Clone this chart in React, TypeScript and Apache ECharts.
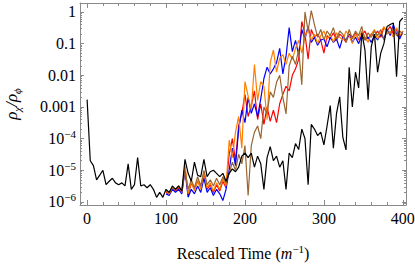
import React, { useEffect, useRef } from "react";
import * as echarts from "echarts";

// sampling grid (rescaled time units)
const STEP = 4;
const blackStart = 0;
const colouredStart = 100;

const blackValues = [
  1.7e-3, 2.0e-5, 1.4e-5, 5.0e-6, 7.0e-6, 1.0e-5, 3.5e-6, 4.5e-6, 5.6e-6, 4.0e-6,
  3.5e-6, 4.0e-6, 3.2e-6, 1.6e-5, 2.5e-6, 3.5e-6, 2.5e-5, 3.2e-6, 3.5e-6, 2.8e-6,
  3.5e-6, 2.5e-6, 1.4e-6, 2.0e-6, 1.4e-6, 2.5e-6, 2.0e-6, 3.2e-6, 2.5e-6, 3.2e-6,
  2.2e-6, 2.2e-5, 8.0e-6, 4.5e-6, 1.8e-5, 7.0e-6, 6.3e-6, 2.2e-5, 6.3e-6, 9.0e-6,
  1.0e-5, 8.0e-6, 6.3e-6, 8.0e-6, 4.5e-6, 8.0e-6, 1.1e-5, 9.0e-6, 1.25e-5, 2.8e-5,
  3.5e-5, 2.5e-5, 3.5e-5, 1.25e-5, 2.8e-5, 1.6e-5, 2.5e-6, 2.5e-5, 5.6e-5, 2.0e-5,
  2.8e-5, 1.25e-5, 2.0e-5, 2.5e-6, 3.5e-5, 2.5e-5, 7.0e-5, 4.5e-5, 2.0e-4, 1.0e-4,
  3.5e-6, 2.8e-4, 2.0e-4, 1.25e-4, 1.6e-4, 6.3e-5, 2.5e-4, 1.1e-3, 5.0e-5, 6.3e-4,
  2.1e-3, 1.1e-4, 4.4e-5, 1.8e-2, 1.0e-3, 1.25e-2, 4.0e-3, 0.22, 6.3e-2, 1.7e-3,
  8.0e-2, 0.2, 1.25e-2, 5.0e-2, 0.1, 0.35, 0.4, 0.45, 9.0e-3, 0.5,
  0.65,
];

const orangeValues = [
  2.2e-6, 1.8e-6, 2.8e-6, 2.5e-6, 3.2e-6, 2.0e-6, 1.4e-5, 1.8e-6, 4.5e-6, 2.2e-6,
  5.0e-6, 2.5e-6, 8.9e-6, 2.8e-6, 4.0e-6, 2.2e-6, 4.0e-6, 2.5e-6, 5.6e-6, 3.2e-6,
  8.9e-5, 2.5e-5, 1.6e-4, 5.0e-4, 5.0e-5, 6.3e-3, 2.2e-3, 7.9e-4, 2.2e-2, 1.6e-3,
  6.3e-3, 4.5e-3, 4.0e-4, 2.5e-2, 6.3e-2, 1.26e-2, 3.5e-2, 4.5e-2, 2.2e-2, 5.0e-2,
  3.2e-2, 7.1e-2, 0.126, 0.05, 0.158, 0.28, 0.126, 0.2, 0.1, 0.178,
  0.25, 0.14, 0.2, 0.11, 0.22, 0.16, 0.13, 0.25, 0.18, 0.1,
  0.2, 0.14, 0.25, 0.16, 0.11, 0.2, 0.28, 0.14, 0.22, 0.35,
  0.2, 0.25, 0.16, 0.32, 0.18, 0.25,
];

const redValues = [
  2.0e-6, 1.8e-6, 2.5e-6, 2.2e-6, 2.8e-6, 2.0e-6, 1.26e-5, 1.6e-6, 4.0e-6, 2.5e-6,
  4.5e-6, 2.8e-6, 7.9e-6, 2.5e-6, 3.5e-6, 2.0e-6, 3.5e-6, 2.2e-6, 4.5e-6, 2.8e-6,
  3.2e-5, 1.0e-4, 2.0e-5, 2.5e-4, 6.3e-4, 2.5e-3, 5.0e-4, 1.1e-3, 3.2e-3, 4.0e-4,
  1.26e-3, 2.8e-4, 1.0e-3, 3.5e-4, 7.9e-4, 3.2e-4, 1.26e-3, 2.5e-3, 4.5e-3, 3.2e-3,
  1.0e-2, 1.6e-2, 3.2e-2, 0.5, 0.2, 3.2e-2, 0.28, 0.16, 0.2, 0.13,
  0.05, 0.18, 0.14, 0.22, 0.13, 0.2, 0.16, 0.11, 0.2, 0.16,
  0.22, 0.13, 0.18, 0.25, 0.14, 0.2, 0.18, 0.25, 0.16, 0.32,
  0.25, 0.35, 0.2, 0.28, 0.16, 0.22,
];

const blueValues = [
  1.8e-6, 1.6e-6, 2.5e-6, 2.0e-6, 2.5e-6, 1.8e-6, 1.0e-5, 1.4e-6, 2.5e-6, 1.8e-6,
  3.2e-6, 2.0e-6, 5.6e-6, 2.0e-6, 2.8e-6, 1.6e-6, 2.5e-6, 1.8e-6, 1.1e-6, 2.5e-6,
  1.0e-5, 5.0e-5, 1.4e-5, 2.0e-4, 7.9e-4, 3.2e-4, 2.0e-3, 6.3e-4, 1.26e-3, 5.0e-4,
  1.8e-3, 7.9e-3, 1.8e-2, 1.1e-2, 1.6e-2, 2.5e-2, 7.1e-2, 1.1e-2, 4.0e-2, 0.32,
  5.6e-2, 0.126, 4.5e-2, 0.28, 0.14, 0.35, 0.11, 0.16, 8.9e-2, 0.13,
  0.14, 7.9e-2, 0.16, 0.11, 0.14, 7.1e-2, 0.16, 0.13, 0.2, 0.11,
  0.16, 0.1, 0.18, 0.13, 0.16, 0.11, 0.18, 0.13, 0.2, 0.14,
  0.28, 0.18, 0.4, 0.2, 0.14, 0.25,
];

const brownValues = [
  2.2e-6, 2.0e-6, 2.8e-6, 2.5e-6, 3.2e-6, 2.2e-6, 1.0e-5, 2.5e-6, 5.0e-6, 2.8e-6,
  6.3e-6, 3.2e-6, 1.0e-5, 3.5e-6, 5.0e-6, 3.2e-6, 5.6e-6, 3.5e-6, 6.3e-6, 4.0e-6,
  7.9e-6, 1.8e-5, 1.0e-5, 3.2e-5, 1.6e-5, 6.0e-5, 1.6e-6, 6.0e-5, 1.6e-4, 2.5e-4,
  1.0e-4, 1.0e-3, 6.0e-4, 3.0e-3, 2.0e-3, 6.0e-3, 1.0e-2, 2.0e-3, 6.0e-4, 2.0e-2,
  4.0e-2, 2.2e-2, 6.3e-2, 5.0e-3, 1.0, 0.25, 1.1, 0.4, 0.16, 0.28,
  0.13, 0.25, 0.18, 0.32, 0.14, 0.25, 0.2, 0.11, 0.28, 0.14,
  0.25, 0.18, 0.35, 0.13, 0.22, 0.16, 0.25, 0.18, 0.28, 0.13,
  0.25, 0.2, 0.32, 0.18, 0.25, 0.2,
];

const xTickLabels = [0, 100, 200, 300, 400];
const xMinorTicks = [20, 40, 60, 80, 120, 140, 160, 180, 220, 240, 260, 280, 320, 340, 360, 380];
const yDecades = [1e-6, 1e-5, 1e-4, 1e-3, 1e-2, 1e-1, 1];
const yTickLabels = ["10^-6", "10^-5", "10^-4", "0.001", "0.01", "0.1", "1"];

const X_MIN = -9;
const X_MAX = 404;
const Y_MIN = 8.0e-7;
const Y_MAX = 1.92;

const FONT = "'Liberation Serif', 'Times New Roman', serif";
const FRAME = "#8a8a8a";

function toPairs(start: number, values: number[]) {
  return values.map((v, i) => [start + i * STEP, v]);
}

function yMinorTicks() {
  const out: number[] = [];
  for (let e = -7; e <= 0; e++) {
    for (let m = 2; m <= 9; m++) {
      const v = m * Math.pow(10, e);
      if (v > Y_MIN && v < Y_MAX) out.push(v);
    }
  }
  return out;
}

function richLabel(txt: string) {
  if (txt.indexOf("^") >= 0) {
    const [b, e] = txt.split("^");
    return `{n|${b}}{s|${e.replace("-", "\u2212")}}`;
  }
  return `{n|${txt}}`;
}

const labelRich = {
  n: { fontSize: 16, fontFamily: FONT, color: "#000", lineHeight: 20, verticalAlign: "middle" },
  s: { fontSize: 11, fontFamily: FONT, color: "#000", lineHeight: 11, verticalAlign: "top" },
};

export default function App() {
  const ref = useRef<HTMLDivElement>(null);

  useEffect(() => {
    if (!ref.current) return;
    const chart = echarts.init(ref.current, undefined, { renderer: "svg" });

    const minorY = yMinorTicks();

    const baseX = {
      type: "value" as const,
      min: X_MIN,
      max: X_MAX,
      splitLine: { show: false },
    };
    const baseY = {
      type: "log" as const,
      logBase: 10,
      min: Y_MIN,
      max: Y_MAX,
      splitLine: { show: false },
    };

    const series = [
      { name: "red", color: "#ff0000", start: colouredStart, values: redValues },
      { name: "blue", color: "#0000ff", start: colouredStart, values: blueValues },
      { name: "orange", color: "#ff8000", start: colouredStart, values: orangeValues },
      { name: "brown", color: "#996633", start: colouredStart, values: brownValues },
      { name: "black", color: "#000000", start: blackStart, values: blackValues },
    ].map((s) => ({
      type: "line" as const,
      name: s.name,
      data: toPairs(s.start, s.values),
      showSymbol: false,
      symbol: "none",
      silent: true,
      lineStyle: { color: s.color, width: 1.2 },
      itemStyle: { color: s.color },
    }));

    chart.setOption({
      animation: false,
      backgroundColor: "#ffffff",
      grid: { left: 80, right: 9, top: 3, bottom: 60, containLabel: false, outerBoundsMode: "none" },
      xAxis: [
        {
          ...baseX,
          position: "bottom",
          axisLine: { show: true, onZero: false, lineStyle: { color: FRAME, width: 1 } },
          axisTick: { show: true, inside: true, length: 5, customValues: xTickLabels, lineStyle: { color: FRAME } },
          axisLabel: {
            show: true,
            customValues: xTickLabels,
            color: "#000",
            fontFamily: FONT,
            fontSize: 16,
            margin: 5,
            formatter: (v: number) => String(v),
          },
          name: "{n|Rescaled Time (}{i|m}{s|\u22121}{n|)}",
          nameLocation: "middle",
          nameGap: 38,
          nameTextStyle: {
            rich: {
              n: { fontSize: 16, fontFamily: FONT, color: "#000", lineHeight: 20, verticalAlign: "middle" },
              i: { fontSize: 16, fontFamily: FONT, fontStyle: "italic", color: "#000", lineHeight: 20, verticalAlign: "middle" },
              s: { fontSize: 11, fontFamily: FONT, color: "#000", lineHeight: 11, verticalAlign: "top" },
            },
          },
        },
        {
          ...baseX,
          position: "bottom",
          axisLine: { show: false, onZero: false },
          axisTick: { show: true, inside: true, length: 3, customValues: xMinorTicks, lineStyle: { color: FRAME } },
          axisLabel: { show: false },
        },
        {
          ...baseX,
          position: "top",
          axisLine: { show: true, onZero: false, lineStyle: { color: FRAME, width: 1 } },
          axisTick: { show: true, inside: true, length: 5, customValues: xTickLabels, lineStyle: { color: FRAME } },
          axisLabel: { show: false },
        },
        {
          ...baseX,
          position: "top",
          axisLine: { show: false, onZero: false },
          axisTick: { show: true, inside: true, length: 3, customValues: xMinorTicks, lineStyle: { color: FRAME } },
          axisLabel: { show: false },
        },
      ],
      yAxis: [
        {
          ...baseY,
          position: "left",
          axisLine: { show: true, onZero: false, lineStyle: { color: FRAME, width: 1 } },
          axisTick: { show: true, inside: true, length: 4, customValues: yDecades, lineStyle: { color: FRAME } },
          axisLabel: {
            show: true,
            customValues: yDecades,
            margin: 4,
            formatter: (v: number) => {
              const idx = yDecades.findIndex((d) => Math.abs(Math.log10(d) - Math.log10(v)) < 1e-6);
              return idx >= 0 ? richLabel(yTickLabels[idx]) : "";
            },
            rich: labelRich,
          },
          name: "{g|\u03c1}{b|\u03c7}{g|/\u03c1}{b|\u03d5}",
          nameLocation: "middle",
          nameRotate: 90,
          nameGap: 58,
          nameTextStyle: {
            rich: {
              g: { fontSize: 17, fontFamily: FONT, fontStyle: "italic", color: "#000", lineHeight: 22, verticalAlign: "middle" },
              b: { fontSize: 11, fontFamily: FONT, fontStyle: "italic", color: "#000", lineHeight: 11, verticalAlign: "bottom" },
            },
          },
        },
        {
          ...baseY,
          position: "left",
          axisLine: { show: false, onZero: false },
          axisTick: { show: true, inside: true, length: 2, customValues: minorY, lineStyle: { color: FRAME } },
          axisLabel: { show: false },
        },
        {
          ...baseY,
          position: "right",
          axisLine: { show: true, onZero: false, lineStyle: { color: FRAME, width: 1 } },
          axisTick: { show: true, inside: true, length: 4, customValues: yDecades, lineStyle: { color: FRAME } },
          axisLabel: { show: false },
        },
        {
          ...baseY,
          position: "right",
          axisLine: { show: false, onZero: false },
          axisTick: { show: true, inside: true, length: 2, customValues: minorY, lineStyle: { color: FRAME } },
          axisLabel: { show: false },
        },
      ],
      series,
    });

    return () => chart.dispose();
  }, []);

  return (
    <div
      ref={ref}
      style={{ position: "fixed", left: 0, top: 0, width: 415, height: 265, background: "#fff" }}
    />
  );
}
